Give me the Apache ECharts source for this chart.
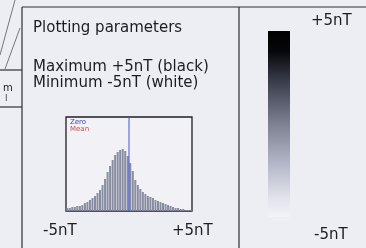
<!DOCTYPE html>
<html>
<head>
<meta charset="utf-8">
<script src="https://cdn.jsdelivr.net/npm/echarts@6/dist/echarts.min.js"></script>
<style>
html,body{margin:0;padding:0;background:#ededf4;}
#main{width:366px;height:248px;}
</style>
</head>
<body>
<div id="main"></div>
<script>
// 直方图分箱中心 (nT)
var binCenters = [-4.9,-4.7,-4.5,-4.3,-4.1,-3.9,-3.7,-3.5,-3.3,-3.1,
    -2.9,-2.7,-2.5,-2.3,-2.1,-1.9,-1.7,-1.5,-1.3,-1.1,
    -0.9,-0.7,-0.5,-0.3,-0.1,0.1,0.3,0.5,0.7,0.9,
    1.1,1.3,1.5,1.7,1.9,2.1,2.3,2.5,2.7,2.9,
    3.1,3.3,3.5,3.7,3.9,4.1,4.3,4.5,4.7,4.9];
// 各箱计数(估读)
var binCounts = [3,3,4,4,5,5,6,8,9,11,
    13,15,18,21,26,32,39,45,51,56,
    59,61,62,60,55,48,40,31,26,22,
    19,17,15,14,13,11,10,9,8,7,
    6,5,4,3,3,2,2,1,1,1];
var rangeMin = -5, rangeMax = 5;
var minLabel = "-5nT", maxLabel = "+5nT";
var zeroValue = 0;
var countMax = 94;
var scaleCategory = ["scale"];

var histData = [];
for (var i = 0; i < binCenters.length; i++) {
    histData.push([binCenters[i], binCounts[i]]);
}

var font = "DejaVu Sans";
var lineCol = "#2e2e36";
var txtCol = "#1c1c22";
var myChart = echarts.init(document.getElementById("main"));

var option = {
    backgroundColor: "#ededf4",
    animation: false,
    grid: [
        {left: 66, top: 117, width: 126, height: 94, show: true,
            borderColor: "#1e1e24", borderWidth: 1.3, backgroundColor: "#f1f1f6"},
        {left: 268, top: 31, width: 22, height: 186}
    ],
    xAxis: [
        {type: "value", min: rangeMin, max: rangeMax, show: false, gridIndex: 0},
        {type: "category", data: scaleCategory, show: false, gridIndex: 1}
    ],
    yAxis: [
        {type: "value", min: 0, max: countMax, show: false, gridIndex: 0},
        {type: "value", min: rangeMin, max: rangeMax, show: false, gridIndex: 1}
    ],
    series: [
        {
            type: "bar", data: histData, barWidth: 2,
            itemStyle: {color: "#878ca0"},
            silent: true
        },
        // 零线
        {
            type: "line", data: [[zeroValue, 0], [zeroValue, countMax]],
            symbol: "none", silent: true,
            lineStyle: {color: "#3f52e6", width: 1}
        },
        // 色标 (正半段)
        {
            type: "bar", xAxisIndex: 1, yAxisIndex: 1, stack: "scale", barWidth: "100%",
            data: [rangeMax], silent: true,
            itemStyle: {color: new echarts.graphic.LinearGradient(0, 0, 0, 1, [
                {offset: 0, color: "#000000"},
                {offset: 0.22, color: "#07070b"},
                {offset: 0.55, color: "#3b3e4c"},
                {offset: 1, color: "#7d8192"}
            ])}
        },
        // 色标 (负半段)
        {
            type: "bar", xAxisIndex: 1, yAxisIndex: 1, stack: "scale", barWidth: "100%",
            data: [rangeMin], silent: true,
            itemStyle: {color: new echarts.graphic.LinearGradient(0, 0, 0, 1, [
                {offset: 0, color: "#7d8192"},
                {offset: 0.45, color: "#b6b9c9"},
                {offset: 0.8, color: "#e2e3ec"},
                {offset: 1, color: "#f2f2f7"}
            ])}
        }
    ],
    graphic: [
        // 框线
        {type: "line", shape: {x1: 22, y1: 7, x2: 366, y2: 7}, style: {stroke: lineCol, lineWidth: 1.2}},
        {type: "line", shape: {x1: 22, y1: 7, x2: 22, y2: 248}, style: {stroke: lineCol, lineWidth: 1.2}},
        {type: "line", shape: {x1: 239, y1: 7, x2: 239, y2: 248}, style: {stroke: lineCol, lineWidth: 1.2}},
        {type: "line", shape: {x1: 0, y1: 70, x2: 22, y2: 70}, style: {stroke: lineCol, lineWidth: 1.2}},
        {type: "line", shape: {x1: 0, y1: 107, x2: 22, y2: 107}, style: {stroke: lineCol, lineWidth: 1.2}},
        {type: "line", shape: {x1: 0, y1: 55, x2: 15, y2: 0}, style: {stroke: "#55555e", lineWidth: 0.8}},
        {type: "line", shape: {x1: 5, y1: 69, x2: 20, y2: 28}, style: {stroke: "#55555e", lineWidth: 0.8}},
        {type: "text", left: 3, top: 83, style: {text: "m", font: "10px " + font, fill: "#222"}},
        {type: "text", left: 5, top: 94, style: {text: "l", font: "9px " + font, fill: "#444"}},
        // 文本
        {type: "text", left: 33, top: 21, style: {text: "Plotting parameters", font: "15px " + font, fill: txtCol}},
        {type: "text", left: 33, top: 60, style: {text: "Maximum +5nT (black)", font: "15px " + font, fill: txtCol}},
        {type: "text", left: 33, top: 76, style: {text: "Minimum -5nT (white)", font: "15px " + font, fill: txtCol}},
        {type: "text", left: 70, top: 119, style: {text: "Zero", font: "7px " + font, fill: "#3b4cb0"}},
        {type: "text", left: 70, top: 126, style: {text: "Mean", font: "7px " + font, fill: "#d44a4a"}},
        {type: "text", left: 43, top: 224, style: {text: minLabel, font: "15px " + font, fill: txtCol}},
        {type: "text", left: 172, top: 224, style: {text: maxLabel, font: "15px " + font, fill: txtCol}},
        {type: "text", left: 311, top: 14, style: {text: maxLabel, font: "15px " + font, fill: txtCol}},
        {type: "text", left: 314, top: 228, style: {text: minLabel, font: "15px " + font, fill: txtCol}}
    ]
};

myChart.setOption(option);
</script>
</body>
</html>
